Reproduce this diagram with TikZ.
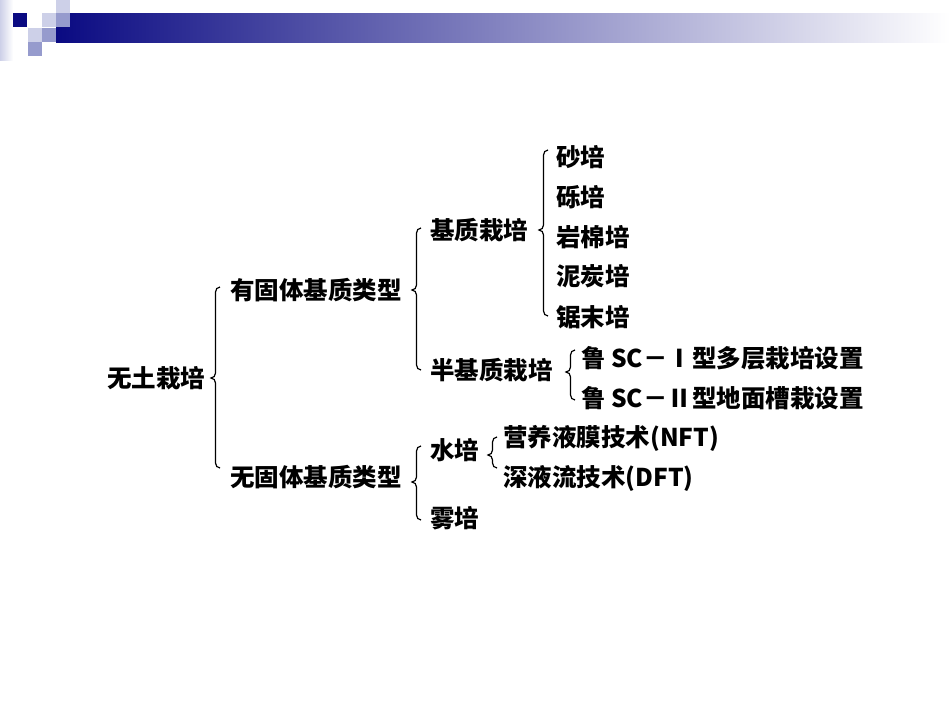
\documentclass[tikz,border=0pt]{standalone}
\usepackage{fontspec}
\newfontfamily\cjk{Noto Sans CJK SC}
\definecolor{navy}{RGB}{10,10,130}
\definecolor{lightsq}{RGB}{205,208,232}
\definecolor{midsq}{RGB}{150,155,205}
\newcommand\mybrace[4]{\draw[br] (#1+9,#2) to[out=180,in=90] (#1+4.5,#2+5) -- (#1+4.5,#3-5) to[out=-90,in=0] (#1,#3) to[out=0,in=90] (#1+4.5,#3+5) -- (#1+4.5,#4-5) to[out=-90,in=180] (#1+9,#4);}
\begin{document}
\begin{tikzpicture}[x=1pt,y=-1pt,
  t/.style={anchor=west,inner sep=0pt,font=\cjk\bfseries\fontsize{24.5}{26}\selectfont},
  br/.style={draw=black,line width=1.2pt}]
\useasboundingbox (0,0) rectangle (950,713);
\fill[white] (0,0) rectangle (950,713);
% decoration
\shade[left color=lightsq,right color=white] (0,0) rectangle (13,60);
\shade[left color=navy,right color=white] (56,13) rectangle (950,42);
\fill[navy] (13,13) rectangle (27,27);
\fill[lightsq] (42,13) rectangle (56,27);
\fill[midsq] (56,13) rectangle (70,27);
\fill[lightsq] (56,0) rectangle (70,13);
\fill[lightsq] (28,28) rectangle (42,42);
\fill[midsq] (42,28) rectangle (56,42);
\fill[midsq] (28,42) rectangle (42,56);
% texts
\node[t] (root) at (107,378) {无土栽培};
\node[t] (a) at (230,290) {有固体基质类型};
\node[t] (b) at (230,477) {无固体基质类型};
\node[t] (a1) at (430,230) {基质栽培};
\node[t] (a2) at (430,370) {半基质栽培};
\node[t] (s1) at (556,157) {砂培};
\node[t] (s2) at (556,197) {砾培};
\node[t] (s3) at (556,237) {岩棉培};
\node[t] (s4) at (556,276) {泥炭培};
\node[t] (s5) at (556,317) {锯末培};
\node[t] (h1) at (581,358) {鲁 SC－Ⅰ型多层栽培设置};
\node[t] (h2) at (581,398) {鲁 SC－Ⅱ型地面槽栽设置};
\node[t] (b1) at (430,450) {水培};
\node[t] (b2) at (430,518) {雾培};
\node[t] (w1) at (503,438) {营养液膜技术(NFT)};
\node[t] (w2) at (503,478) {深液流技术(DFT)};
% braces
\mybrace{211}{287}{378}{468}
\mybrace{412}{228}{290}{370}
\mybrace{539}{150}{230}{316}
\mybrace{566}{350}{372}{400}
\mybrace{412}{446}{482}{520}
\mybrace{488}{437}{455}{468}
\end{tikzpicture}
\end{document}
